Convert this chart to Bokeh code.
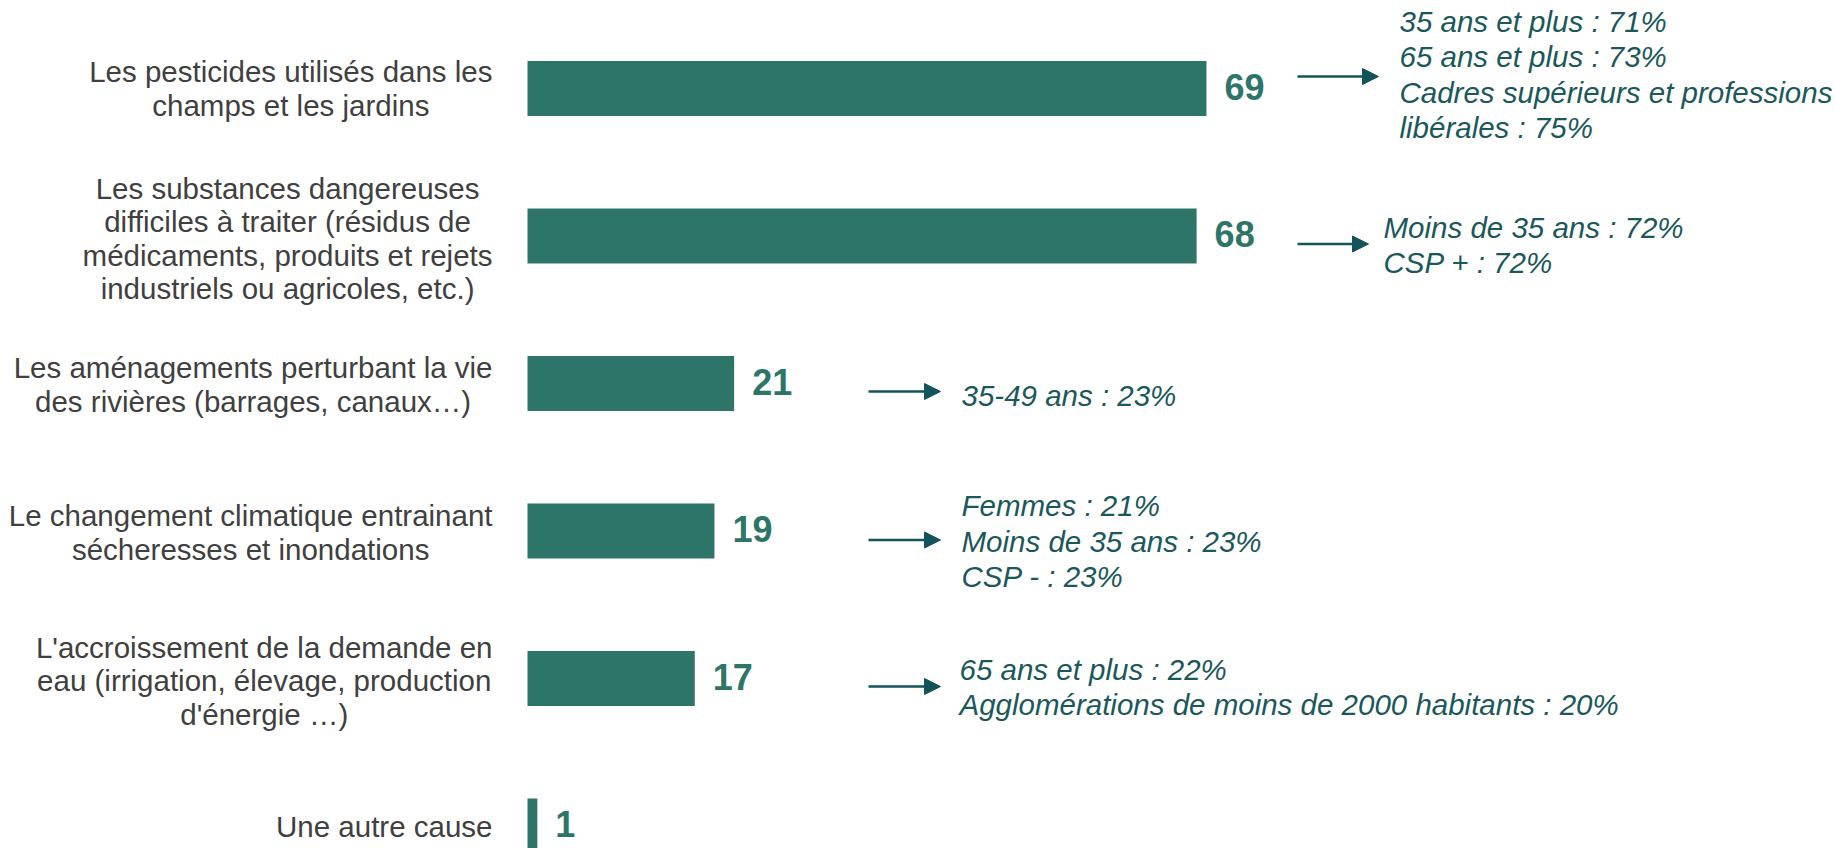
from bokeh.plotting import figure
from bokeh.models import Range1d, Arrow, NormalHead, ColumnDataSource
from bokeh.core.properties import value
from bokeh.embed import file_html
from bokeh.resources import INLINE

# ---------------- data ----------------
categories = [
    ["Les pesticides utilisés dans les", "champs et les jardins"],
    ["Les substances dangereuses", "difficiles à traiter (résidus de",
     "médicaments, produits et rejets", "industriels ou agricoles, etc.)"],
    ["Les aménagements perturbant la vie", "des rivières (barrages, canaux…)"],
    ["Le changement climatique entrainant", "sécheresses et inondations"],
    ["L'accroissement de la demande en", "eau (irrigation, élevage, production",
     "d'énergie …)"],
    ["Une autre cause"],
]
values = [69, 68, 21, 19, 17, 1]
value_labels = ["69", "68", "21", "19", "17", "1"]
annotations = [
    ["35 ans et plus : 71%", "65 ans et plus : 73%",
     "Cadres supérieurs et professions", "libérales : 75%"],
    ["Moins de 35 ans : 72%", "CSP + : 72%"],
    ["35-49 ans : 23%"],
    ["Femmes : 21%", "Moins de 35 ans : 23%", "CSP - : 23%"],
    ["65 ans et plus : 22%", "Agglomérations de moins de 2000 habitants : 20%"],
    [],
]

# ---------------- styling / layout ----------------
BAR = "#2E7569"
VAL = "#2E7569"
ANN = "#1B585B"
ARR = "#12545A"
CAT = "#404040"
FONT = "Liberation Sans"

W, H = 1835, 848
X0, PXX = 527.0, 9.84       # page px of value 0, px per unit
Y0, PXY = 88.0, 147.5       # page px of first row centre, px per row

def xd(px):
    return (px - X0) / PXX

def yd(py):
    return (py - Y0) / PXY

x_start = xd(0)
y_top = yd(0)
p = figure(width=W, height=H, output_backend="svg", toolbar_location=None,
           x_range=Range1d(x_start, x_start + W / PXX),
           y_range=Range1d(y_top + H / PXY, y_top),
           min_border=0, outline_line_color=None)
p.axis.visible = False
p.grid.visible = False
p.background_fill_color = "white"
p.border_fill_color = "white"

idx = list(range(len(values)))
src = ColumnDataSource(dict(y=idx, right=values, lab=value_labels,
                            ly=[i - 2 / PXY for i in idx],
                            lx=[v + 18 / PXX for v in values]))
p.hbar(y="y", left=0, right="right", height=55 / PXY, source=src,
       fill_color=BAR, line_color=None)
p.text(x="lx", y="ly", text="lab", source=src, text_font=value(FONT),
       text_font_size="36px", text_font_style="bold", text_color=VAL,
       text_align="left", text_baseline="middle")

# Arial / Liberation Sans advance widths (per 1000 em)
AW = {' ': 278, "'": 191, '(': 333, ')': 333, ',': 278, '-': 333, '.': 278,
      ':': 278, '%': 889, '+': 584, '…': 1000}
for c in "0123456789":
    AW[c] = 556
for c, w in zip("ABCDEFGHIJKLMNOPQRSTUVWXYZ",
                [667, 667, 722, 722, 667, 611, 778, 722, 278, 500, 667, 556, 833,
                 722, 778, 667, 778, 722, 667, 611, 722, 667, 944, 667, 667, 611]):
    AW[c] = w
for c, w in zip("abcdefghijklmnopqrstuvwxyz",
                [556, 556, 500, 556, 556, 278, 556, 556, 222, 222, 500, 222, 833,
                 556, 556, 556, 556, 333, 500, 278, 556, 500, 722, 500, 500, 500]):
    AW[c] = w
for c in "éèàêô":
    AW[c] = 556

def tw(s, size):
    return sum(AW.get(c, 556) for c in s) * size / 1000.0

# category labels: right-aligned block, lines centred within
CAT_SIZE = 29.5
RIGHT = 492
cat_dy = [0, 2.5, 1, 1.5, 2, 0]
cx, cy, ct = [], [], []
for i, lines in enumerate(categories):
    maxw = max(tw(s, CAT_SIZE) for s in lines)
    centre = RIGHT - maxw / 2
    n = len(lines)
    mid = Y0 + PXY * i + cat_dy[i]
    for j, s in enumerate(lines):
        cx.append(xd(centre))
        cy.append(yd(mid + (j - (n - 1) / 2) * 33.5))
        ct.append(s)
p.text(x=cx, y=cy, text=ct, text_font=value(FONT), text_font_size=f"{CAT_SIZE}px",
       text_color=CAT, text_align="center", text_baseline="middle")

# annotations and arrows
arrow_x = [(1297, 1378), (1297, 1368), (868, 940), (868, 940), (868, 940)]
arrow_dy = [-12, 8, 8, 9, 8]
text_x = [1399, 1383, 961, 961, 959]
text_dy = [-14, 9, 11.5, 10, 8.5]
ax_, ay_, at_ = [], [], []
for i, lines in enumerate(annotations):
    if not lines:
        continue
    rowc = Y0 + PXY * i
    ya = yd(rowc + arrow_dy[i])
    p.add_layout(Arrow(x_start=xd(arrow_x[i][0]), y_start=ya,
                       x_end=xd(arrow_x[i][1]), y_end=ya,
                       line_color=ARR, line_width=2.5,
                       end=NormalHead(size=16, fill_color=ARR, line_color=ARR,
                                      line_width=1)))
    n = len(lines)
    mid = rowc + text_dy[i]
    for j, s in enumerate(lines):
        ax_.append(xd(text_x[i]))
        ay_.append(yd(mid + (j - (n - 1) / 2) * 35.5))
        at_.append(s)
p.text(x=ax_, y=ay_, text=at_, text_font=value(FONT), text_font_size="29.5px",
       text_font_style="italic", text_color=ANN, text_align="left",
       text_baseline="middle")

open("out.html", "w").write(file_html(p, INLINE))
